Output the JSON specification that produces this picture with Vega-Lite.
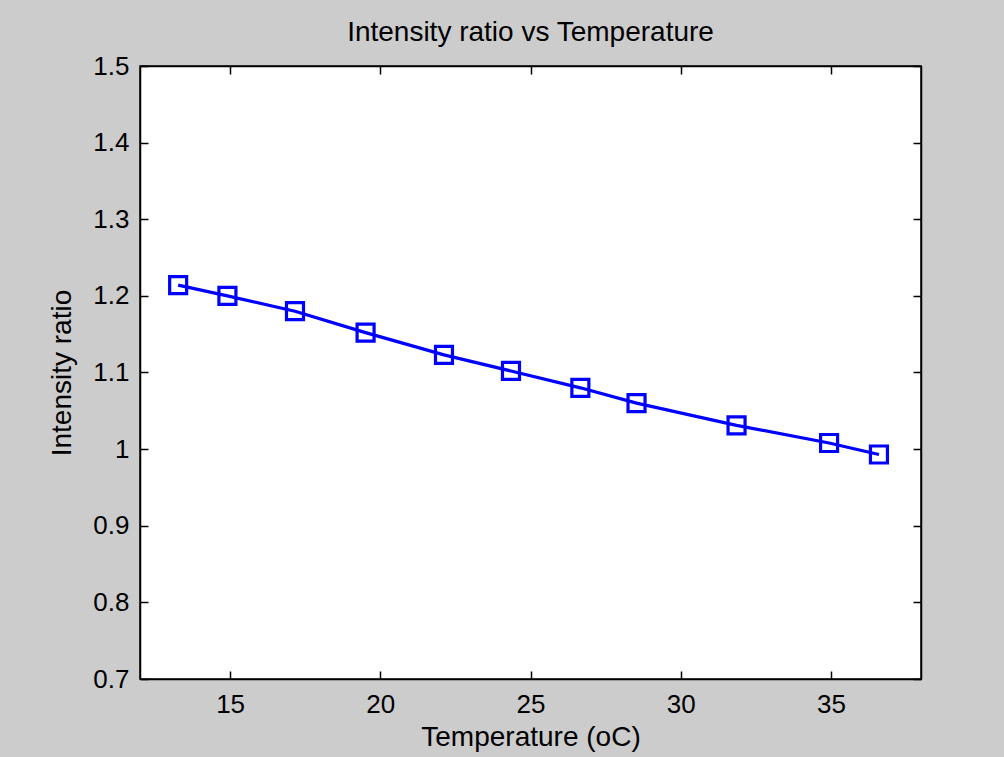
{
  "$schema": "https://vega.github.io/schema/vega-lite/v6.json",
  "width": 781,
  "height": 613,
  "autosize": {"type": "none"},
  "padding": {"left": 140, "top": 66, "right": 83, "bottom": 78},
  "background": "#cccccc",
  "config": {
    "view": {"fill": "white", "stroke": "black", "strokeWidth": 1.5},
    "font": "Liberation Sans",
    "axis": {
      "domainColor": "black",
      "domainWidth": 1.5,
      "tickColor": "black",
      "tickWidth": 1.5,
      "tickSize": -8,
      "labelColor": "black",
      "labelFontSize": 26,
      "labelFont": "Liberation Sans",
      "titleFont": "Liberation Sans",
      "titleFontSize": 28,
      "titleFontWeight": "normal",
      "titleColor": "black",
      "grid": false
    }
  },
  "title": {
    "text": "Intensity ratio vs Temperature",
    "fontSize": 28,
    "fontWeight": "normal",
    "font": "Liberation Sans",
    "color": "black",
    "anchor": "middle",
    "offset": 6
  },
  "data": {
    "values": [
      {"T": 13.27, "R": 1.214},
      {"T": 14.91, "R": 1.200},
      {"T": 17.16, "R": 1.180},
      {"T": 19.51, "R": 1.152},
      {"T": 22.12, "R": 1.123},
      {"T": 24.35, "R": 1.102},
      {"T": 26.66, "R": 1.080},
      {"T": 28.53, "R": 1.060},
      {"T": 31.86, "R": 1.031},
      {"T": 34.94, "R": 1.008},
      {"T": 36.60, "R": 0.993}
    ]
  },
  "layer": [
    {
      "mark": {"type": "line", "color": "#0000ff", "strokeWidth": 3.2},
      "encoding": {
        "x": {
          "field": "T", "type": "quantitative",
          "scale": {"domain": [12, 38], "nice": false, "zero": false},
          "axis": {"orient": "bottom", "values": [15, 20, 25, 30, 35], "title": "Temperature (oC)", "labelPadding": 20, "titlePadding": 6}
        },
        "y": {
          "field": "R", "type": "quantitative",
          "scale": {"domain": [0.7, 1.5], "nice": false, "zero": false},
          "axis": {"orient": "left", "values": [0.7, 0.8, 0.9, 1.0, 1.1, 1.2, 1.3, 1.4, 1.5], "format": "~g", "title": "Intensity ratio", "labelPadding": 19, "titlePadding": 16}
        }
      }
    },
    {
      "mark": {"type": "point", "shape": "square", "filled": false, "color": "#0000ff", "size": 289, "strokeWidth": 3.2, "opacity": 1},
      "encoding": {
        "x": {
          "field": "T", "type": "quantitative",
          "axis": {"orient": "top", "values": [15, 20, 25, 30, 35], "labels": false, "title": null}
        },
        "y": {
          "field": "R", "type": "quantitative",
          "axis": {"orient": "right", "values": [0.7, 0.8, 0.9, 1.0, 1.1, 1.2, 1.3, 1.4, 1.5], "labels": false, "title": null}
        }
      }
    }
  ],
  "resolve": {"axis": {"x": "independent", "y": "independent"}}
}
